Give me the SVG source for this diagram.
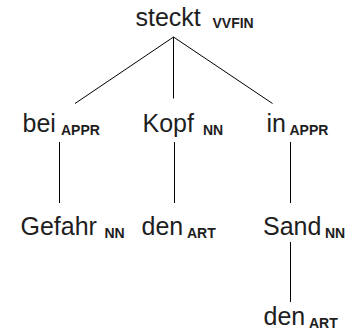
<svg xmlns="http://www.w3.org/2000/svg" width="353" height="334" viewBox="0 0 353 334">
<style>
.w{font-family:"Liberation Sans",Arial,sans-serif;font-size:25px;fill:#1e1e1e}
.t{font-family:"Liberation Sans",Arial,sans-serif;font-size:14px;font-weight:bold;fill:#1e1e1e}
.e{stroke:#000;stroke-width:1;fill:none}
</style>
<rect width="353" height="334" fill="#fff"/>
<g id="connectors">
<line class="e" x1="173.5" y1="37" x2="75" y2="103.5"/>
<line class="e" x1="173.5" y1="37" x2="173.5" y2="98.5"/>
<line class="e" x1="173.5" y1="37" x2="272.5" y2="103.5"/>
<line class="e" x1="59.5" y1="142" x2="59.5" y2="203"/>
<line class="e" x1="174.5" y1="142" x2="174.5" y2="203"/>
<line class="e" x1="290.5" y1="142" x2="290.5" y2="203"/>
<line class="e" x1="290.5" y1="242" x2="290.5" y2="302"/>
</g>
<g id="n-steckt"><text class="w" x="135.5" y="26">steckt</text><text class="t" x="212.5" y="28">VVFIN</text></g>
<g id="n-bei"><text class="w" x="22.5" y="131.5">bei</text><text class="t" x="61" y="134.5">APPR</text></g>
<g id="n-kopf"><text class="w" x="142.5" y="131.5">Kopf</text><text class="t" x="203" y="134.5">NN</text></g>
<g id="n-in"><text class="w" x="266.5" y="131.5">in</text><text class="t" x="289.5" y="134.5">APPR</text></g>
<g id="n-gefahr"><text class="w" x="20.5" y="234.5">Gefahr</text><text class="t" x="104.5" y="237.5">NN</text></g>
<g id="n-den1"><text class="w" x="141.5" y="234.5">den</text><text class="t" x="187" y="237.5">ART</text></g>
<g id="n-sand"><text class="w" x="263" y="234.5">Sand</text><text class="t" x="325" y="237.5">NN</text></g>
<g id="n-den2"><text class="w" x="263.5" y="324.5">den</text><text class="t" x="309" y="327.5">ART</text></g>
</svg>
